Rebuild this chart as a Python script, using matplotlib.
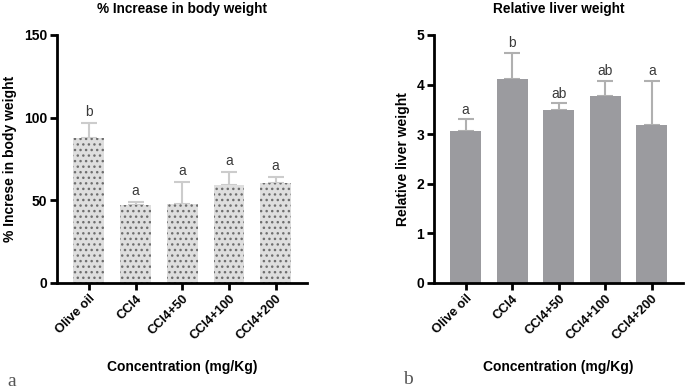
import matplotlib
matplotlib.use("Agg")
import matplotlib.pyplot as plt
import numpy as np

plt.rcParams['font.family'] = ['Liberation Sans', 'DejaVu Sans']
plt.rcParams['hatch.linewidth'] = 1.0

categories = ["Olive oil", "CCl4", "CCl4+50", "CCl4+100", "CCl4+200"]
body_mean = [88.0, 47.0, 47.5, 59.5, 60.5]
body_err = [8.6, 2.0, 13.5, 7.8, 3.5]
body_letters = ["b", "a", "a", "a", "a"]
liver_mean = [3.07, 4.12, 3.48, 3.77, 3.19]
liver_err = [0.23, 0.52, 0.14, 0.30, 0.88]
liver_letters = ["a", "b", "ab", "ab", "a"]

W, H = 685, 392
fig = plt.figure(figsize=(W / 100, H / 100), dpi=100)

def make_axes(left_px, right_px):
    return fig.add_axes([left_px / W, (H - 283) / H, (right_px - left_px) / W, (283 - 35) / H])

ax1 = make_axes(57, 307)
ax2 = make_axes(434, 683)

x = np.arange(len(categories))

def style(ax, ylim, yticks, ylabel, title):
    for s in ["top", "right"]:
        ax.spines[s].set_visible(False)
    for s in ["left", "bottom"]:
        ax.spines[s].set_linewidth(2.0)
        ax.spines[s].set_color("black")
    ax.set_xlim(-0.68, 4.67)
    ax.set_ylim(*ylim)
    ax.set_yticks(yticks)
    ax.set_xticks(x)
    ax.set_xticklabels(categories, rotation=45, ha="right", rotation_mode="anchor",
                       fontweight="bold", fontsize=9.3)
    for lab in ax.get_yticklabels():
        lab.set_fontweight("bold")
        lab.set_fontsize(10)
    ax.tick_params(axis="both", direction="out", width=2.0, length=5, pad=2)
    ax.set_ylabel(ylabel, fontweight="bold", fontsize=10, labelpad=5)
    ax.set_xlabel("Concentration (mg/Kg)", fontweight="bold", fontsize=10, labelpad=13)
    ax.set_title(title, fontweight="bold", fontsize=9.8, pad=16)

# Panel a
ax1.bar(x, body_mean, width=0.66, color="#dedede", edgecolor="#6e6e6e", linewidth=0,
        hatch="...", zorder=2)
ax1.errorbar(x, body_mean, yerr=[np.zeros(len(x)), body_err], fmt="none",
             ecolor="#cccccc", elinewidth=1.5, capsize=6, capthick=1.5, zorder=1)
for xi, m, e, l in zip(x, body_mean, body_err, body_letters):
    ax1.annotate(l, (xi, m + e), xytext=(0, 3), textcoords="offset points",
                 ha="center", va="bottom", fontsize=10, color="#3a3a3a")
style(ax1, (0, 150), [0, 50, 100, 150], "% Increse in body weight", "% Increase in body weight")

# Panel b
ax2.bar(x, liver_mean, width=0.66, color="#9b9b9f", linewidth=0, zorder=2)
ax2.errorbar(x, liver_mean, yerr=[np.zeros(len(x)), liver_err], fmt="none",
             ecolor="#b0b0b0", elinewidth=1.5, capsize=6, capthick=1.5, zorder=1)
for xi, m, e, l in zip(x, liver_mean, liver_err, liver_letters):
    ax2.annotate(l, (xi, m + e), xytext=(0, 2), textcoords="offset points",
                 ha="center", va="bottom", fontsize=10, color="#3a3a3a")
style(ax2, (0, 5), [0, 1, 2, 3, 4, 5], "Relative liver weight", "Relative liver weight")

fig.text(12 / W, 1 - 381 / H, "a", family=["Liberation Serif", "DejaVu Serif"],
         fontsize=14, color="#555555", ha="center", va="center")
fig.text(408 / W, 1 - 379 / H, "b", family=["Liberation Serif", "DejaVu Serif"],
         fontsize=14, color="#555555", ha="center", va="center")

fig.savefig("out.png", dpi=100)
